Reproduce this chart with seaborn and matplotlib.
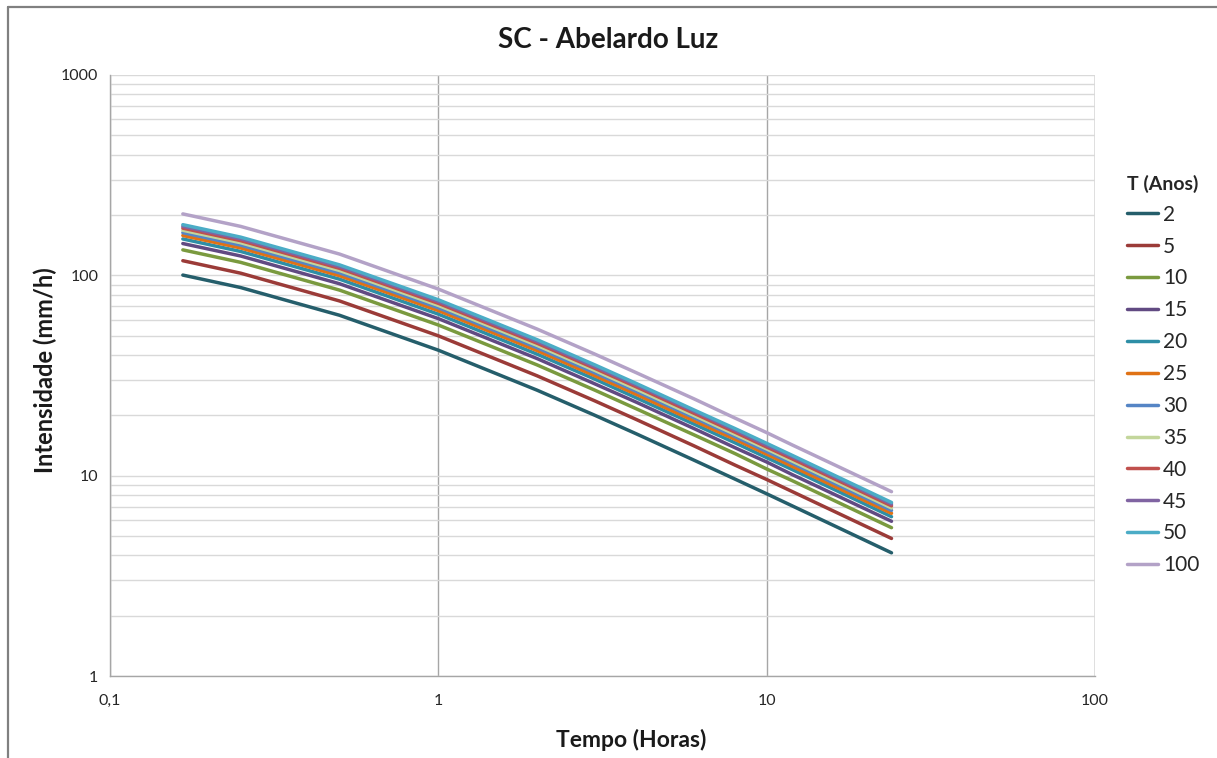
import numpy as np
import pandas as pd
import matplotlib
matplotlib.use("Agg")
import matplotlib.pyplot as plt
import matplotlib.ticker as mticker
from matplotlib.lines import Line2D
import seaborn as sns

# Durations (hours): 10 min, 15 min, 30 min, 1 h, 2 h, 3 h, 4 h, 6 h, 8 h, 10 h, 12 h, 24 h
durations = [1/6, 0.25, 0.5, 1, 2, 3, 4, 6, 8, 10, 12, 24]

# Intensities (mm/h), one list per return period
i_T2 = [100.3, 86.9, 63.2, 42.3, 26.7, 20.0, 16.2, 11.96, 9.62, 8.12, 7.05, 4.12]
i_T5 = [118.3, 102.5, 74.5, 49.9, 31.5, 23.6, 19.1, 14.1, 11.3, 9.57, 8.31, 4.86]
i_T10 = [134.0, 116.1, 84.4, 56.5, 35.7, 26.7, 21.6, 16.0, 12.9, 10.8, 9.42, 5.50]
i_T15 = [144.1, 124.9, 90.8, 60.8, 38.4, 28.7, 23.3, 17.2, 13.8, 11.7, 10.1, 5.92]
i_T20 = [151.9, 131.6, 95.7, 64.0, 40.4, 30.3, 24.5, 18.1, 14.6, 12.3, 10.7, 6.24]
i_T25 = [158.1, 137.0, 99.6, 66.7, 42.1, 31.5, 25.5, 18.8, 15.2, 12.8, 11.1, 6.49]
i_T30 = [163.3, 141.5, 102.9, 68.9, 43.5, 32.6, 26.4, 19.5, 15.7, 13.2, 11.5, 6.71]
i_T35 = [167.9, 145.5, 105.8, 70.8, 44.7, 33.5, 27.1, 20.0, 16.1, 13.6, 11.8, 6.90]
i_T40 = [172.0, 149.0, 108.4, 72.5, 45.8, 34.3, 27.8, 20.5, 16.5, 13.9, 12.1, 7.07]
i_T45 = [175.7, 152.2, 110.7, 74.1, 46.8, 35.0, 28.4, 21.0, 16.9, 14.2, 12.4, 7.22]
i_T50 = [179.0, 155.1, 112.8, 75.5, 47.7, 35.7, 28.9, 21.3, 17.2, 14.5, 12.6, 7.35]
i_T100 = [202.6, 175.5, 127.7, 85.4, 53.9, 40.4, 32.7, 24.2, 19.4, 16.4, 14.2, 8.32]

return_periods = ["2", "5", "10", "15", "20", "25", "30", "35", "40", "45", "50", "100"]
series = [i_T2, i_T5, i_T10, i_T15, i_T20, i_T25, i_T30, i_T35, i_T40, i_T45, i_T50, i_T100]
colors = ["#255E6B", "#9B3B38", "#7A9A3F", "#614A82", "#2E8EA6", "#E07215",
          "#5585C5", "#C3D69B", "#C0504D", "#8064A2", "#4BACC6", "#B3A2C7"]

rows = []
for T, vals in zip(return_periods, series):
    for d, v in zip(durations, vals):
        rows.append({"Tempo": d, "Intensidade": v, "T": T})
df = pd.DataFrame(rows)

sns.set_style("white")
plt.rcParams["font.family"] = ["Lato", "DejaVu Sans"]

fig = plt.figure(figsize=(12.17, 7.58), dpi=100)
ax = fig.add_axes([110/1217, 1 - 676/758, (1095 - 110)/1217, (676 - 75)/758])

palette = dict(zip(return_periods, colors))
sns.lineplot(data=df, x="Tempo", y="Intensidade", hue="T", hue_order=return_periods,
             palette=palette, linewidth=2.5, ax=ax, legend=False, sort=False)

ax.set_xscale("log")
ax.set_yscale("log")
ax.set_xlim(0.1, 100)
ax.set_ylim(1, 1000)

def comma_fmt(v, pos):
    s = f"{v:g}"
    return s.replace(".", ",")

ax.xaxis.set_major_locator(mticker.LogLocator(base=10, numticks=10))
ax.yaxis.set_major_locator(mticker.LogLocator(base=10, numticks=10))
ax.xaxis.set_major_formatter(mticker.FuncFormatter(comma_fmt))
ax.yaxis.set_major_formatter(mticker.FuncFormatter(comma_fmt))
ax.xaxis.set_minor_locator(mticker.NullLocator())
ax.yaxis.set_minor_locator(mticker.LogLocator(base=10, subs=np.arange(2, 10), numticks=10))
ax.yaxis.set_minor_formatter(mticker.NullFormatter())

ax.grid(True, which="major", axis="x", color="#A6A6A6", linewidth=1.0)
ax.grid(True, which="both", axis="y", color="#D9D9D9", linewidth=1.0)
ax.set_axisbelow(True)

for side in ["top", "right"]:
    ax.spines[side].set_visible(False)
for side in ["left", "bottom"]:
    ax.spines[side].set_color("#A6A6A6")
    ax.spines[side].set_linewidth(1.0)
ax.axvline(100, color="#A6A6A6", linewidth=1.0, zorder=0)

ax.tick_params(axis="both", which="major", length=5, width=1, color="#A6A6A6",
               labelsize=11.5, labelcolor="#262626", direction="out")
ax.tick_params(axis="y", which="minor", length=0)
ax.tick_params(axis="x", pad=8)

ax.set_xlabel("")
ax.set_ylabel("")

fig.text(0.5, 1 - 40/758, "SC - Abelardo Luz", ha="center", va="center",
         fontsize=20, fontweight="bold", color="#1A1A1A")
fig.text(631/1217, 1 - 740/758, "Tempo (Horas)", ha="center", va="center",
         fontsize=16.5, fontweight="bold", color="#1A1A1A")
fig.text(45/1217, 1 - 370/758, "Intensidade (mm/h)", ha="center", va="center",
         rotation=90, fontsize=17, fontweight="bold", color="#1A1A1A")

handles = [Line2D([0], [0], color=c, linewidth=2.5) for c in colors]
leg = fig.legend(handles, return_periods, title="T (Anos)", loc="upper left",
                 bbox_to_anchor=(1108/1217, 1 - 156/758), frameon=False,
                 fontsize=15, title_fontproperties={"weight": "bold", "size": 14},
                 handlelength=1.5, handletextpad=0.25, labelspacing=0.57,
                 alignment="left")

# outer chart frame (cropped at the right and bottom)
fig.add_artist(Line2D([8/1217, 1], [1 - 6.5/758, 1 - 6.5/758], color="#808080",
                      linewidth=1.6, transform=fig.transFigure))
fig.add_artist(Line2D([8/1217, 8/1217], [0, 1 - 6.5/758], color="#808080",
                      linewidth=1.6, transform=fig.transFigure))

fig.savefig("out.png", dpi=100, facecolor="white")
